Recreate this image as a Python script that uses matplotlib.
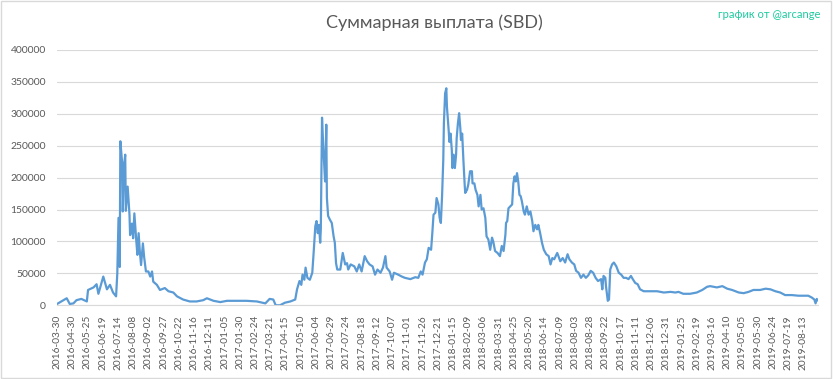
import matplotlib
matplotlib.use("Agg")
import matplotlib.pyplot as plt
from matplotlib.patches import Rectangle

# day index (category number on the axis) and total payout in SBD
day_index = [
    0, 16, 21, 27, 32, 40, 49, 51, 60, 65, 68, 76, 82, 87, 92, 97, 99, 101, 103, 104,
    107, 108, 110, 112, 113, 116, 119, 120, 123, 125, 127, 130, 132, 134, 136, 138, 141, 143, 146, 150,
    153, 156, 158, 164, 169, 177, 183, 191, 197, 207, 218, 229, 240, 246, 257, 268, 279,
    284, 311, 328, 342, 349, 355, 359, 366, 374, 383, 391, 394, 398, 401, 403, 406, 408, 411,
    415, 419, 421, 424, 426, 428, 430, 432, 433, 435, 437, 440, 442, 443, 445, 448, 451, 454,
    456, 458, 460, 465, 469, 473, 476, 478, 482, 488, 492, 496, 500, 505, 509, 513, 518, 522,
    526, 531, 535, 539, 541, 546, 550, 553, 560, 566, 571, 580, 588, 593,
    597, 600, 604, 607, 610, 614, 616, 618, 621, 623, 626, 628, 630, 632, 634, 635, 637, 639,
    640, 643, 644, 646, 648, 649, 651, 653, 655, 656, 658, 660, 662, 663, 665, 667, 669, 670,
    673, 675, 678, 681, 682, 685, 687, 690, 692, 695, 697, 700, 703, 705, 708, 711, 714, 716,
    719, 723, 727, 730, 733, 736, 737, 739, 741, 744, 747, 749, 751, 753, 755, 757, 759, 761,
    763, 766, 768, 771, 774, 777, 780, 782, 785, 788, 790, 793, 796, 799, 803, 807, 810, 813,
    816, 821, 823, 826, 830, 834, 838, 841, 845, 849, 852, 856, 860, 864, 868, 872, 876, 880,
    884, 888, 893, 895, 897, 900, 901, 904, 906, 908,
    911, 914, 918, 922, 926, 930, 934, 938, 942, 945, 949, 953, 957, 963, 974, 985, 996, 1007,
    1015, 1020, 1028, 1039, 1050, 1059, 1067, 1072, 1083, 1092, 1100, 1108, 1119, 1127, 1135,
    1143, 1154, 1163, 1171, 1179, 1187, 1195, 1206, 1217, 1225, 1233, 1239, 1243, 1245, 1247, 1248,
]
payout_sbd = [
    2000, 11000, 2000, 3000, 8000, 10000, 6000, 24000, 28000, 33000, 18000, 45000, 25000, 32000, 20000, 14000, 50000, 137000, 60000, 257000,
    223000, 147000, 218000, 236000, 148000, 186000, 142000, 110000, 128000, 105000, 144000, 103000, 79000, 113000, 84000, 63000, 97000, 76000, 53000, 53000,
    45000, 53000, 37000, 32000, 24000, 27000, 22000, 20000, 14000, 9000, 6000, 6000, 8000, 11000, 7000, 5000, 7000,
    7000, 7000, 6000, 3000, 10000, 9000, 0, 0, 4000, 6000, 9000, 25000, 38000, 32000, 48000, 40000, 59000, 43000,
    40000, 51000, 79000, 124000, 132000, 113000, 126000, 98000, 119000, 294000, 249000, 194000, 283000, 168000, 140000, 134000, 129000, 108000,
    98000, 66000, 56000, 56000, 82000, 64000, 66000, 56000, 64000, 61000, 53000, 64000, 53000, 77000, 69000, 64000, 61000, 48000,
    56000, 51000, 59000, 77000, 59000, 53000, 40000, 51000, 48000, 45000, 43000, 41000, 44000, 43000,
    53000, 48000, 67000, 72000, 90000, 87000, 113000, 142000, 145000, 168000, 158000, 137000, 129000, 171000, 228000, 285000, 332000, 340000,
    311000, 272000, 256000, 269000, 243000, 215000, 236000, 215000, 236000, 262000, 285000, 301000, 277000, 259000, 269000, 228000, 191000, 176000,
    181000, 189000, 210000, 210000, 191000, 191000, 181000, 173000, 155000, 173000, 150000, 152000, 137000, 108000, 103000, 87000, 106000, 100000,
    85000, 82000, 77000, 93000, 85000, 111000, 129000, 132000, 152000, 155000, 158000, 191000, 202000, 194000, 207000, 194000, 173000, 171000,
    163000, 147000, 142000, 155000, 142000, 147000, 132000, 116000, 126000, 119000, 126000, 113000, 98000, 87000, 80000, 77000, 64000, 74000,
    72000, 82000, 77000, 69000, 74000, 67000, 80000, 72000, 67000, 64000, 54000, 51000, 43000, 48000, 43000, 47000, 54000, 51000,
    43000, 38000, 41000, 25000, 46000, 43000, 30000, 7000, 9000, 56000,
    64000, 67000, 61000, 51000, 48000, 43000, 43000, 41000, 46000, 41000, 35000, 33000, 25000, 22000, 22000, 22000, 20000, 21000,
    20000, 21000, 18000, 18000, 20000, 24000, 29000, 30000, 28000, 30000, 26000, 24000, 20000, 19000, 21000,
    24000, 24000, 26000, 25000, 22000, 20000, 16000, 16000, 15000, 15000, 15000, 12000, 9000, 3000, 10000, 8000,
]

date_labels = [
    "2016-03-30", "2016-04-30", "2016-05-25", "2016-06-19", "2016-07-14", "2016-08-08",
    "2016-09-02", "2016-09-27", "2016-10-22", "2016-11-16", "2016-12-11", "2017-01-05",
    "2017-01-30", "2017-02-24", "2017-03-21", "2017-04-15", "2017-05-10", "2017-06-04",
    "2017-06-29", "2017-07-24", "2017-08-18", "2017-09-12", "2017-10-07", "2017-11-01",
    "2017-11-26", "2017-12-21", "2018-01-15", "2018-02-09", "2018-03-06", "2018-03-31",
    "2018-04-25", "2018-05-20", "2018-06-14", "2018-07-09", "2018-08-03", "2018-08-28",
    "2018-09-22", "2018-10-17", "2018-11-11", "2018-12-06", "2018-12-31", "2019-01-25",
    "2019-02-19", "2019-03-16", "2019-04-10", "2019-05-05", "2019-05-30", "2019-06-24",
    "2019-07-19", "2019-08-13",
]
TICK_STEP = 25
N_DAYS = 1250

plt.rcParams["font.family"] = ["Lato", "DejaVu Sans"]
TEXT_GRAY = "#595959"
GRID_GRAY = "#D9D9D9"

fig = plt.figure(figsize=(8.33, 3.79), dpi=100)
ax = fig.add_axes([0.0684, 0.1945, 0.9136, 0.6736])

ax.plot(day_index, payout_sbd, color="#5B9BD5", linewidth=1.6, solid_joinstyle="round")

ax.set_xlim(0, N_DAYS - 1)
ax.set_ylim(0, 400000)
ax.set_yticks(range(0, 400001, 50000))
ax.set_xticks(range(0, len(date_labels) * TICK_STEP, TICK_STEP))
ax.set_xticklabels(date_labels, rotation=90)

ax.grid(axis="y", color=GRID_GRAY, linewidth=0.8)
ax.set_axisbelow(True)
for side in ("top", "right", "left"):
    ax.spines[side].set_visible(False)
ax.spines["bottom"].set_color(GRID_GRAY)
ax.spines["bottom"].set_linewidth(0.8)
ax.tick_params(axis="y", length=0, pad=8, labelsize=7.5, labelcolor=TEXT_GRAY)
ax.tick_params(axis="x", length=0, pad=7, labelsize=7.3, labelcolor=TEXT_GRAY)

fig.text(0.522, 1 - 23 / 379, "Суммарная выплата (SBD)", ha="center", va="center",
         fontsize=13, color=TEXT_GRAY)
fig.text(820 / 833, 1 - 14 / 379, "график от @arcange", ha="right", va="center",
         fontsize=8, color="#1CCB9F")

fig.add_artist(Rectangle((0.001, 0.002), 0.997, 0.995, transform=fig.transFigure,
                         fill=False, edgecolor=GRID_GRAY, linewidth=1))

fig.savefig("out.png", dpi=100)
